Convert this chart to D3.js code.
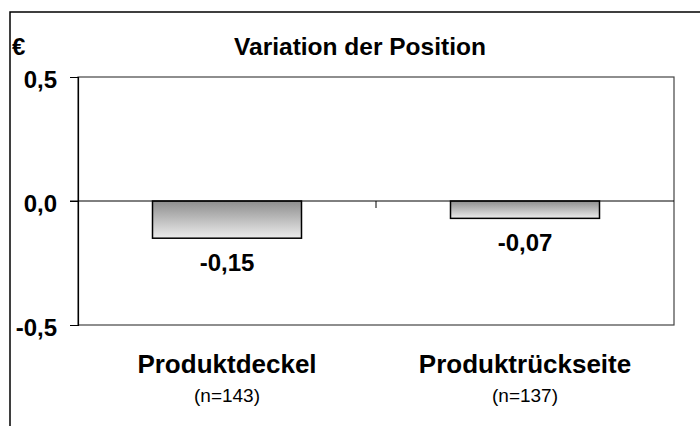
<!DOCTYPE html>
<html>
<head>
<meta charset="utf-8">
<script src="https://cdn.jsdelivr.net/npm/d3@7"></script>
<style>
  body { margin: 0; background: #fff; }
  svg { font-family: "Liberation Sans", Arial, sans-serif; }
</style>
</head>
<body>
<div id="chart"></div>
<script>
// Data
var categories = ["Produktdeckel", "Produktrückseite"];
var sampleSizes = ["(n=143)", "(n=137)"];
var values = [-0.15, -0.07];
var yTicks = [-0.5, 0, 0.5];

var svgWidth = 700;
var svgHeight = 426;

var margin = { top: 77, right: 26, bottom: 101, left: 78 };
var width = svgWidth - margin.left - margin.right;
var height = svgHeight - margin.top - margin.bottom;

var svg = d3.select("#chart")
    .append("svg")
        .attr("width", svgWidth)
        .attr("height", svgHeight);

// bar gradient
var grad = svg.append("defs").append("linearGradient")
    .attr("id", "barGrad")
    .attr("x1", 0).attr("y1", 0)
    .attr("x2", 0).attr("y2", 1);
grad.append("stop").attr("offset", "0%").attr("stop-color", "#8e8e8e");
grad.append("stop").attr("offset", "100%").attr("stop-color", "#ececec");

// outer frame (open on right and bottom)
svg.append("path")
    .attr("d", "M10,426 V12 H700")
    .attr("fill", "none")
    .attr("stroke", "#000")
    .attr("stroke-width", 1.5);

var g = svg.append("g")
    .attr("transform", `translate(${margin.left}, ${margin.top})`);

// scales
var x = d3.scaleBand()
    .domain(categories)
    .range([0, width])
    .paddingInner(0.5)
    .paddingOuter(0.25);

var y = d3.scaleLinear()
    .domain([-0.5, 0.5])
    .range([height, 0]);

// plot area border
g.append("rect")
    .attr("x", 0)
    .attr("y", 0)
    .attr("width", width)
    .attr("height", height)
    .attr("fill", "none")
    .attr("stroke", "#444")
    .attr("stroke-width", 1.2);

// bars
g.selectAll(".bar")
    .data(values)
    .enter()
    .append("rect")
        .attr("class", "bar")
        .attr("x", (d, i) => x(categories[i]))
        .attr("y", d => y(Math.max(0, d)))
        .attr("width", x.bandwidth())
        .attr("height", d => Math.abs(y(d) - y(0)))
        .attr("fill", "url(#barGrad)")
        .attr("stroke", "#000")
        .attr("stroke-width", 1.5);

// zero line
g.append("line")
    .attr("x1", -8)
    .attr("x2", width)
    .attr("y1", y(0))
    .attr("y2", y(0))
    .attr("stroke", "#000")
    .attr("stroke-width", 1);

// category divider tick
var step = x.step();
g.append("line")
    .attr("x1", x(categories[0]) - step * 0.25 + step)
    .attr("x2", x(categories[0]) - step * 0.25 + step)
    .attr("y1", y(0))
    .attr("y2", y(0) + 7)
    .attr("stroke", "#000")
    .attr("stroke-width", 1);

// y axis
var yAxis = g.append("g")
    .call(d3.axisLeft(y)
        .tickValues(yTicks)
        .tickSize(8)
        .tickPadding(13)
        .tickFormat(d => d.toFixed(1).replace(".", ",")));
yAxis.select(".domain").attr("stroke", "#000").attr("stroke-width", 1.2);
yAxis.selectAll(".tick line").attr("stroke", "#000");
yAxis.selectAll(".tick text")
    .attr("dy", 10)
    .style("font-family", "'Liberation Sans', Arial, sans-serif")
    .style("font-size", "24px")
    .style("font-weight", "bold")
    .attr("fill", "#000");

// value labels
g.selectAll(".val")
    .data(values)
    .enter()
    .append("text")
        .attr("class", "val")
        .attr("x", (d, i) => x(categories[i]) + x.bandwidth() / 2)
        .attr("y", d => y(d) + 33)
        .attr("text-anchor", "middle")
        .style("font-size", "24px")
        .style("font-weight", "bold")
        .text(d => d.toFixed(2).replace(".", ","));

// category labels
g.selectAll(".cat")
    .data(categories)
    .enter()
    .append("text")
        .attr("class", "cat")
        .attr("x", d => x(d) + x.bandwidth() / 2)
        .attr("y", height + 48)
        .attr("text-anchor", "middle")
        .style("font-size", "26px")
        .style("font-weight", "bold")
        .text(d => d);

g.selectAll(".n")
    .data(sampleSizes)
    .enter()
    .append("text")
        .attr("class", "n")
        .attr("x", (d, i) => x(categories[i]) + x.bandwidth() / 2)
        .attr("y", height + 77)
        .attr("text-anchor", "middle")
        .style("font-size", "19px")
        .text(d => d);

// title and unit
svg.append("text")
    .attr("x", 360)
    .attr("y", 55)
    .attr("text-anchor", "middle")
    .style("font-size", "24.5px")
    .style("font-weight", "bold")
    .text("Variation der Position");

svg.append("text")
    .attr("x", 12)
    .attr("y", 55)
    .style("font-size", "24px")
    .style("font-weight", "bold")
    .text("€");
</script>
</body>
</html>
